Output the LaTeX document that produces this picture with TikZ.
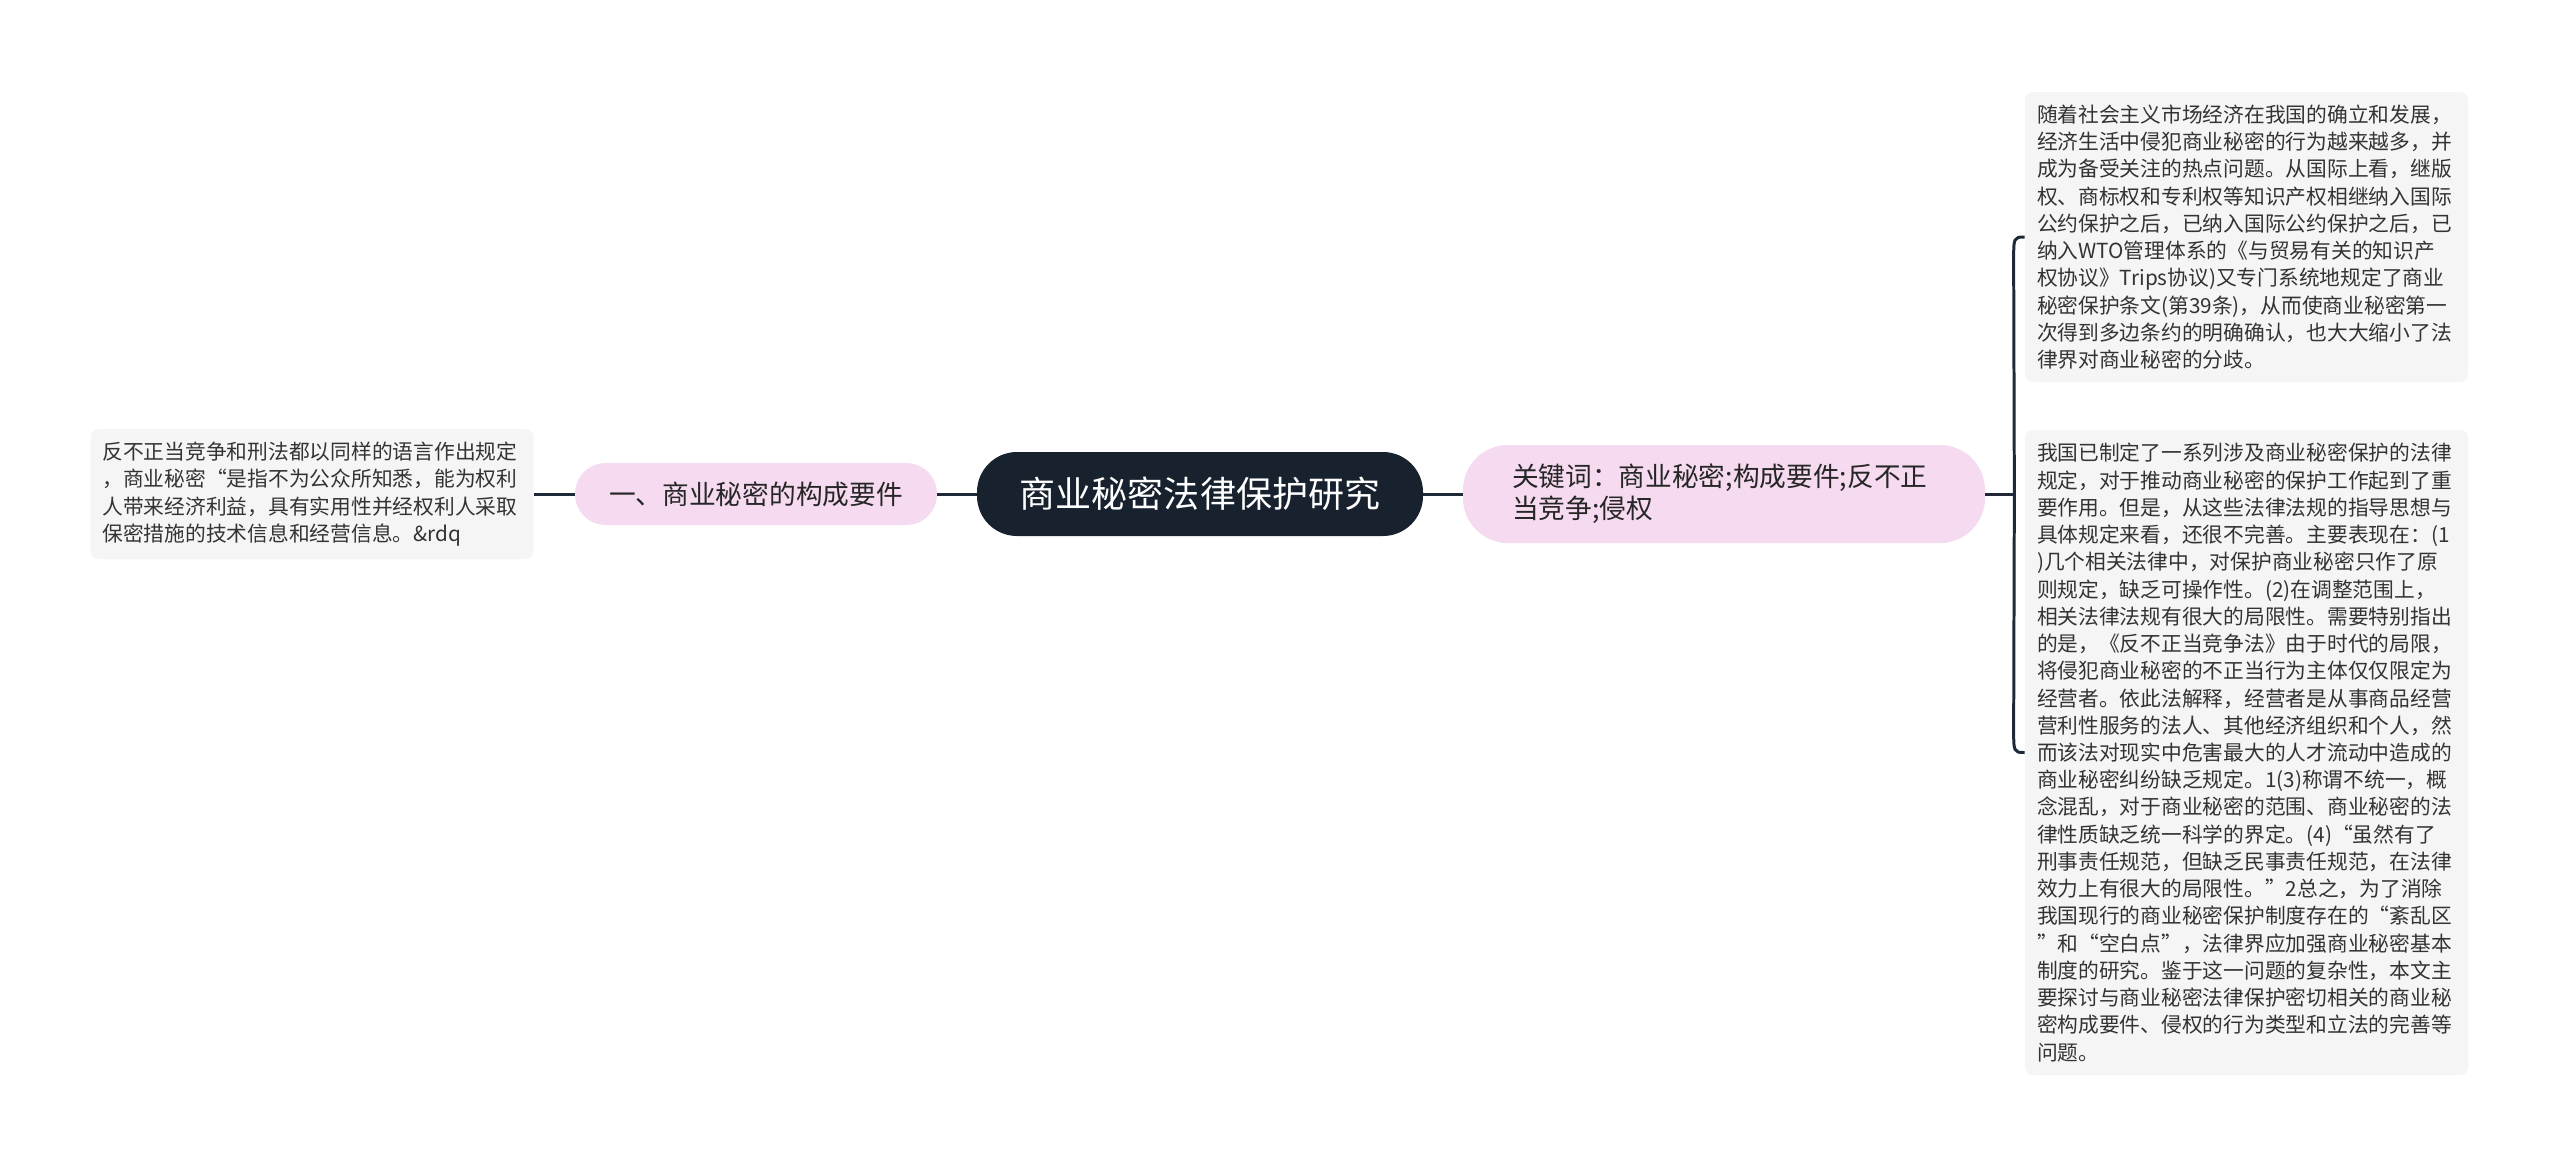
\documentclass[tikz,border=0pt]{standalone}
\usepackage{fontspec}
\setmainfont{Noto Sans CJK SC}
\usepackage{xcolor}
\usetikzlibrary{shapes,arrows,positioning,calc}
\definecolor{rootnavy}{HTML}{18222F}
\definecolor{topicpink}{HTML}{F5DAF0}
\definecolor{leafgray}{HTML}{F5F5F5}
\definecolor{linenavy}{HTML}{1E2836}
\definecolor{leaftext}{HTML}{333333}

\tikzset{
  rootbox/.style={fill=rootnavy, text=white, rounded corners=0.8cm, minimum width=8.92cm, minimum height=1.68cm, font=\fontsize{20.5pt}{24pt}\selectfont},
  topicbox/.style={fill=topicpink, text=black!85, font=\fontsize{15.2pt}{18.2pt}\selectfont},
  leafbox/.style={fill=leafgray, text=leaftext, rounded corners=0.16cm, align=left, inner xsep=0.24cm, text width=8.38cm, font=\fontsize{11.8pt}{15.5pt}\selectfont},
  link/.style={linenavy, line width=1.7pt}
}

\begin{document}
\begin{tikzpicture}
            \fill[white] (0,0) rectangle (51.2,-23.34);
            \useasboundingbox (0,0) rectangle (51.2,-23.34);

            % 
            \node[rootbox] (c0) at (24.0,-9.88) {商业秘密法律保护研究};
            \node[topicbox, align=left, text width=8.48cm, inner xsep=0.98cm, minimum height=1.96cm, rounded corners=0.9cm] (k1) at (34.48,-9.88) {关键词：商业秘密;构成要件;反不正\\当竞争;侵权};
            \node[topicbox, minimum width=7.24cm, minimum height=1.24cm, rounded corners=0.62cm] (s1) at (15.12,-9.88) {一、商业秘密的构成要件};

            % 
            \node[leafbox, minimum height=2.6cm] (t1) at (6.24,-9.88) {反不正当竞争和刑法都以同样的语言作出规定\\
，商业秘密“是指不为公众所知悉，能为权利\\
人带来经济利益，具有实用性并经权利人采取\\
保密措施的技术信息和经营信息。\&rdq};

            \node[leafbox, minimum height=5.8cm] (r1) at (44.93,-4.74) {随着社会主义市场经济在我国的确立和发展，\\
经济生活中侵犯商业秘密的行为越来越多，并\\
成为备受关注的热点问题。从国际上看，继版\\
权、商标权和专利权等知识产权相继纳入国际\\
公约保护之后，已纳入国际公约保护之后，已\\
纳入WTO管理体系的《与贸易有关的知识产\\
权协议》Trips协议)又专门系统地规定了商业\\
秘密保护条文(第39条)，从而使商业秘密第一\\
次得到多边条约的明确确认，也大大缩小了法\\
律界对商业秘密的分歧。};

            \node[leafbox, minimum height=12.9cm] (r2) at (44.93,-15.05) {我国已制定了一系列涉及商业秘密保护的法律\\
规定，对于推动商业秘密的保护工作起到了重\\
要作用。但是，从这些法律法规的指导思想与\\
具体规定来看，还很不完善。主要表现在：(1\\
)几个相关法律中，对保护商业秘密只作了原\\
则规定，缺乏可操作性。(2)在调整范围上，\\
相关法律法规有很大的局限性。需要特别指出\\
的是，《反不正当竞争法》由于时代的局限，\\
将侵犯商业秘密的不正当行为主体仅仅限定为\\
经营者。依此法解释，经营者是从事商品经营\\
营利性服务的法人、其他经济组织和个人，然\\
而该法对现实中危害最大的人才流动中造成的\\
商业秘密纠纷缺乏规定。1(3)称谓不统一，概\\
念混乱，对于商业秘密的范围、商业秘密的法\\
律性质缺乏统一科学的界定。(4)“虽然有了\\
刑事责任规范，但缺乏民事责任规范，在法律\\
效力上有很大的局限性。”2总之，为了消除\\
我国现行的商业秘密保护制度存在的“紊乱区\\
”和“空白点”，法律界应加强商业秘密基本\\
制度的研究。鉴于这一问题的复杂性，本文主\\
要探讨与商业秘密法律保护密切相关的商业秘\\
密构成要件、侵权的行为类型和立法的完善等\\
问题。};

            % Links
            \draw[link] (t1.east) -- (s1.west);
            \draw[link] (s1.east) -- (c0.west);
            \draw[link] (c0.east) -- (k1.west);
            \coordinate (j1) at ([xshift=0.58cm]k1.east);
            \draw[link] (k1.east) -- (j1);
            \draw[link] (j1) -- ([shift={(-0.22,-0.5)}]r1.west) .. controls ([xshift=-0.22cm]r1.west) .. (r1.west);
            \draw[link] (j1) -- ([shift={(-0.22,0.5)}]r2.west) .. controls ([xshift=-0.22cm]r2.west) .. (r2.west);

\end{tikzpicture}
\end{document}
